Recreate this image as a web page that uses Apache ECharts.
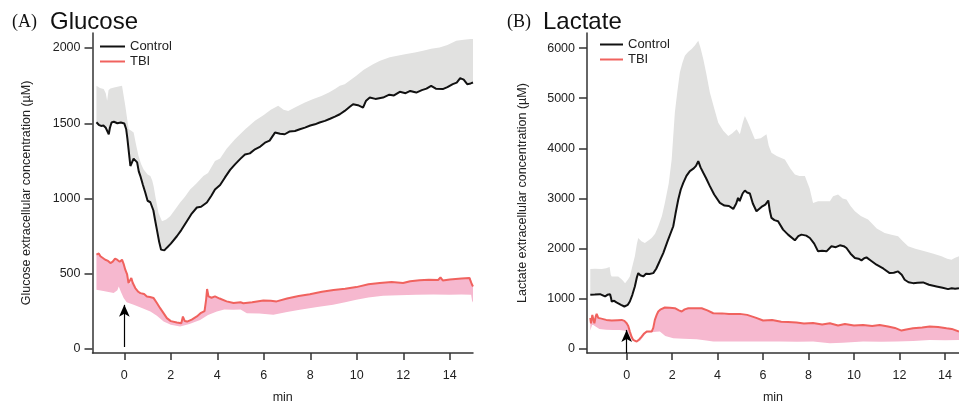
<!DOCTYPE html>
<html>
<head>
<meta charset="utf-8">
<script src="https://cdn.jsdelivr.net/npm/echarts@6/dist/echarts.min.js"></script>
<style>
html,body{margin:0;padding:0;background:#fff;}
#chart{width:959px;height:406px;}
</style>
</head>
<body>
<div id="chart"></div>
<script>
// ---------- Panel A: Glucose (min, µM) ----------
const glcCtrl = [[-1.2,1507],[-1.1,1490],[-1.0,1482],[-0.9,1485],[-0.8,1470],[-0.72,1480],[-0.67,1427],[-0.62,1470],[-0.55,1505],[-0.45,1510],[-0.3,1500],[-0.15,1505],[0,1498],[0.08,1460],[0.13,1400],[0.2,1300],[0.26,1216],[0.33,1225],[0.4,1265],[0.47,1273],[0.55,1240],[0.62,1180],[0.69,1149],[0.8,1090],[0.9,1040],[1.0,985],[1.04,973],[1.12,975],[1.19,973],[1.25,920],[1.33,850],[1.4,793],[1.5,710],[1.58,660],[1.65,649],[1.72,655],[1.83,673],[2.0,700],[2.26,749],[2.45,790],[2.69,849],[2.9,900],[3.12,940],[3.3,945],[3.55,973],[3.75,1020],[3.9,1060],[4.12,1090],[4.33,1140],[4.55,1190],[4.76,1227],[5.0,1265],[5.19,1293],[5.4,1300],[5.62,1327],[5.85,1345],[6.05,1371],[6.25,1385],[6.48,1438],[6.7,1430],[6.9,1427],[7.1,1445],[7.34,1449],[7.55,1460],[7.77,1471],[8.0,1485],[8.2,1493],[8.4,1505],[8.63,1516],[8.85,1530],[9.06,1544],[9.27,1560],[9.48,1582],[9.7,1610],[9.84,1627],[10.05,1620],[10.27,1604],[10.4,1650],[10.56,1671],[10.8,1662],[11.13,1671],[11.4,1690],[11.6,1685],[11.85,1709],[12.1,1700],[12.3,1715],[12.56,1704],[12.8,1720],[13.0,1730],[13.2,1749],[13.4,1730],[13.7,1727],[13.9,1740],[14.13,1760],[14.3,1770],[14.45,1800],[14.52,1809],[14.6,1790],[14.75,1760],[14.9,1765],[15.0,1771]];
const glcCtrlUpper = [[-1.2,1749],[-1.05,1735],[-0.89,1727],[-0.8,1700],[-0.74,1649],[-0.68,1720],[-0.6,1731],[-0.4,1740],[-0.1,1749],[0.04,1616],[0.12,1530],[0.19,1460],[0.3,1450],[0.4,1438],[0.5,1360],[0.61,1282],[0.72,1230],[0.83,1193],[1.0,1160],[1.12,1149],[1.2,1120],[1.26,1082],[1.35,1000],[1.47,904],[1.62,849],[1.8,860],[1.97,882],[2.2,930],[2.4,973],[2.6,1010],[2.83,1060],[3.1,1100],[3.4,1149],[3.6,1170],[3.9,1249],[4.12,1265],[4.4,1330],[4.76,1393],[5.2,1460],[5.62,1516],[6.0,1555],[6.3,1590],[6.62,1616],[6.85,1590],[7.05,1582],[7.4,1610],[7.77,1638],[8.1,1660],[8.48,1682],[8.8,1705],[9.06,1727],[9.27,1749],[9.48,1760],[9.98,1816],[10.3,1855],[10.7,1893],[11.0,1915],[11.42,1938],[11.8,1950],[12.13,1960],[12.5,1970],[12.85,1982],[13.2,1995],[13.56,2004],[13.9,2020],[14.28,2049],[14.6,2055],[14.9,2060],[15.0,2060]];
const glcTbi = [[-1.2,627],[-1.1,635],[-1.03,616],[-0.95,605],[-0.82,593],[-0.7,585],[-0.6,571],[-0.5,580],[-0.4,600],[-0.31,593],[-0.2,580],[-0.1,593],[-0.02,560],[0.04,527],[0.12,495],[0.18,438],[0.25,430],[0.3,471],[0.36,440],[0.47,405],[0.6,380],[0.69,371],[0.85,365],[0.97,349],[1.1,345],[1.26,338],[1.4,305],[1.54,271],[1.7,235],[1.83,205],[2.0,185],[2.26,176],[2.45,171],[2.52,215],[2.6,185],[2.7,182],[2.9,195],[3.12,216],[3.3,240],[3.45,252],[3.52,330],[3.56,398],[3.62,349],[3.75,340],[3.9,349],[4.1,335],[4.4,316],[4.7,305],[5.0,310],[5.12,304],[5.5,310],[5.98,322],[6.3,320],[6.55,316],[7.0,335],[7.5,352],[7.98,364],[8.5,380],[9.0,392],[9.5,400],[9.98,411],[10.5,430],[10.99,438],[11.5,445],[11.99,438],[12.3,450],[12.7,456],[13.1,460],[13.5,458],[13.6,475],[13.7,455],[14.0,462],[14.5,468],[14.85,471],[14.9,475],[14.95,430],[15.0,415]];
const glcTbiLower = [[-1.2,393],[-0.9,385],[-0.46,371],[-0.3,390],[-0.24,415],[-0.15,380],[-0.03,338],[0.1,310],[0.4,293],[0.7,275],[1.12,249],[1.4,220],[1.69,182],[2.0,160],[2.4,149],[2.8,165],[3.26,193],[3.6,225],[3.98,249],[4.3,262],[4.69,260],[5.0,262],[5.27,238],[5.8,235],[6.41,227],[7.0,245],[7.55,260],[8.3,278],[8.98,293],[9.5,310],[9.98,327],[10.5,342],[11.13,353],[11.8,357],[12.56,360],[13.3,362],[13.99,360],[14.5,362],[14.92,360],[14.96,320],[15.0,309]];

// ---------- Panel B: Lactate (min, µM) ----------
const lacCtrl = [[-1.6,1080],[-1.4,1085],[-1.17,1093],[-1.05,1070],[-0.95,1047],[-0.85,1080],[-0.73,1093],[-0.68,1000],[-0.66,947],[-0.55,960],[-0.45,930],[-0.37,927],[-0.25,880],[-0.1,847],[0.05,880],[0.14,947],[0.25,1080],[0.36,1247],[0.45,1430],[0.51,1513],[0.6,1470],[0.73,1447],[0.85,1500],[1.0,1495],[1.17,1513],[1.3,1600],[1.45,1750],[1.61,1913],[1.8,2150],[2.05,2447],[2.15,2700],[2.27,2980],[2.38,3180],[2.49,3313],[2.63,3450],[2.78,3547],[2.95,3600],[3.05,3650],[3.15,3747],[3.25,3620],[3.37,3513],[3.5,3400],[3.66,3247],[3.85,3080],[4.1,2913],[4.3,2860],[4.5,2850],[4.69,2793],[4.82,2900],[4.9,3013],[4.97,2950],[5.01,2913],[5.1,3100],[5.2,3160],[5.3,3120],[5.42,3100],[5.55,2900],[5.71,2747],[5.93,2833],[6.1,2880],[6.23,2960],[6.3,2750],[6.37,2613],[6.5,2570],[6.66,2547],[6.88,2380],[7.1,2280],[7.4,2167],[7.55,2250],[7.69,2280],[7.9,2260],[8.06,2213],[8.25,2100],[8.42,1947],[8.6,1960],[8.79,1947],[9.01,2047],[9.2,2030],[9.38,2067],[9.55,2050],[9.67,2013],[9.85,1900],[10.04,1813],[10.2,1800],[10.33,1767],[10.45,1810],[10.55,1827],[10.75,1760],[10.99,1680],[11.3,1600],[11.57,1513],[11.75,1520],[11.94,1547],[12.1,1480],[12.23,1380],[12.4,1330],[12.6,1313],[12.8,1320],[13.04,1327],[13.3,1280],[13.63,1247],[13.9,1220],[14.14,1193],[14.3,1210],[14.45,1200],[14.62,1213]];
const lacCtrlUpper = [[-1.6,1593],[-1.4,1600],[-1.1,1593],[-0.9,1610],[-0.75,1633],[-0.7,1480],[-0.66,1447],[-0.37,1447],[-0.2,1380],[-0.07,1313],[0.05,1380],[0.14,1447],[0.25,1650],[0.36,1847],[0.45,2100],[0.51,2213],[0.65,2150],[0.8,2113],[1.0,2180],[1.1,2213],[1.25,2300],[1.39,2447],[1.55,2650],[1.68,2913],[1.85,3300],[1.98,3780],[2.05,4250],[2.12,4713],[2.22,5100],[2.34,5513],[2.45,5700],[2.56,5847],[2.7,5920],[2.86,5980],[3.0,6050],[3.15,6147],[3.25,6000],[3.37,5780],[3.5,5500],[3.66,5113],[3.85,4800],[4.03,4513],[4.25,4350],[4.47,4247],[4.65,4300],[4.84,4380],[4.98,4280],[5.1,4500],[5.2,4647],[5.35,4500],[5.64,4180],[5.9,4200],[6.15,4280],[6.25,4050],[6.37,3913],[6.6,3850],[6.96,3780],[7.2,3600],[7.4,3480],[7.6,3450],[7.84,3447],[8.05,3200],[8.2,2913],[8.42,2947],[8.72,2947],[8.94,2947],[9.08,3047],[9.3,3080],[9.5,3000],[9.67,2980],[9.85,2850],[10.04,2747],[10.3,2650],[10.62,2580],[11.0,2400],[11.35,2313],[11.65,2280],[11.94,2247],[12.15,2150],[12.38,2047],[12.7,2000],[13.11,1947],[13.5,1900],[13.85,1847],[14.1,1800],[14.29,1780],[14.45,1820],[14.62,1847]];
const lacTbi = [[-1.6,620],[-1.57,513],[-1.51,680],[-1.45,560],[-1.42,513],[-1.36,650],[-1.32,700],[-1.25,620],[-1.17,593],[-0.9,580],[-0.66,567],[-0.4,575],[-0.22,580],[-0.1,560],[0.0,513],[0.07,460],[0.14,347],[0.22,240],[0.29,180],[0.37,155],[0.44,147],[0.55,190],[0.66,247],[0.77,310],[0.88,347],[1.0,350],[1.1,347],[1.17,420],[1.24,580],[1.32,680],[1.39,747],[1.5,790],[1.68,827],[1.9,820],[2.12,813],[2.3,770],[2.42,747],[2.55,790],[2.71,813],[3.0,810],[3.3,813],[3.55,770],[3.81,713],[4.2,710],[4.5,700],[4.98,700],[5.3,680],[5.7,620],[6.0,567],[6.4,580],[6.8,545],[7.1,540],[7.47,527],[7.8,510],[8.2,520],[8.6,490],[8.94,513],[9.3,470],[9.6,500],[10.0,470],[10.4,480],[10.8,460],[11.13,480],[11.5,450],[11.8,420],[12.09,367],[12.3,390],[12.6,413],[13.0,430],[13.33,447],[13.7,440],[14.07,413],[14.3,400],[14.62,347]];
const lacTbiLower = [[-1.6,367],[-1.52,480],[-1.47,480],[-1.2,400],[-0.9,385],[-0.59,380],[-0.3,380],[0.0,360],[0.1,300],[0.2,200],[0.3,160],[0.44,140],[0.6,170],[0.75,260],[0.88,330],[1.1,335],[1.3,345],[1.46,347],[1.7,260],[2.05,213],[2.5,205],[3.08,193],[3.5,170],[3.81,147],[4.5,150],[5.27,147],[6.0,150],[6.74,147],[7.5,145],[8.2,147],[8.94,113],[9.5,125],[10.4,147],[11.2,145],[11.87,147],[12.6,160],[13.33,180],[14.0,175],[14.62,180]];

// ---------- Ticks, labels and annotations ----------
const xTicks = [0, 2, 4, 6, 8, 10, 12, 14];
const glcYTicks = [0, 500, 1000, 1500, 2000];
const lacYTicks = [0, 1000, 2000, 3000, 4000, 5000, 6000];
const panelLetters = ['(A)', '(B)'];
const panelTitles = ['Glucose', 'Lactate'];
const yNames = ['Glucose extracellular concentration (\u00B5M)', 'Lactate extracellular concentration (\u00B5M)'];
const xName = 'min';
const seriesNames = ['Control', 'TBI'];
// injection arrow: [time, from value, to value]
const glcArrow = [0, 13, 293];
const lacArrow = [0, -80, 380];

const FONT = '"Liberation Sans", Arial, Helvetica, sans-serif';
const C_BLACK = '#111111', C_RED = '#f0625e', C_PINK = '#f6b8cf', C_GRAY = '#e1e1e0';

function band(gi, upper, lower, color) {
  return {
    type: 'custom', xAxisIndex: gi, yAxisIndex: gi, clip: true, silent: true, z: 1,
    data: [upper[0]],
    renderItem: function (params, api) {
      const pts = [];
      for (let i = 0; i < upper.length; i++) pts.push(api.coord(upper[i]));
      for (let i = lower.length - 1; i >= 0; i--) pts.push(api.coord(lower[i]));
      return { type: 'polygon', shape: { points: pts }, style: { fill: color, stroke: null } };
    }
  };
}
function line(gi, name, data, color, arrow) {
  const s = {
    type: 'line', name: name, xAxisIndex: gi, yAxisIndex: gi, data: data,
    symbol: 'none', showSymbol: false, z: 3, clip: true,
    lineStyle: { color: color, width: 2 }, itemStyle: { color: color }
  };
  if (arrow) {
    s.markLine = {
      silent: true, symbol: ['none', 'arrow'], symbolSize: [8, 12], label: { show: false },
      lineStyle: { color: '#000', width: 1.2, type: 'solid' },
      emphasis: { disabled: true },
      data: [[{ coord: [arrow[0], arrow[1]] }, { coord: [arrow[0], arrow[2]] }]]
    };
  }
  return s;
}
const plain = function (v) { return String(v); };
function xAx(gi, min, max) {
  return {
    type: 'value', gridIndex: gi, min: min, max: max,
    name: xName, nameLocation: 'middle', nameGap: 38,
    nameTextStyle: { fontFamily: FONT, fontSize: 12.5, color: '#222' },
    axisLine: { onZero: false, lineStyle: { color: '#333', width: 1.5 } },
    axisTick: { show: true, length: 7, customValues: xTicks, lineStyle: { color: '#333', width: 1.5 } },
    axisLabel: { customValues: xTicks, formatter: plain, margin: 16, fontFamily: FONT, fontSize: 12.5, color: '#222' },
    splitLine: { show: false }
  };
}
function yAx(gi, min, max, ticks, name, gap) {
  return {
    type: 'value', gridIndex: gi, min: min, max: max,
    name: name, nameLocation: 'middle', nameGap: gap, nameRotate: 90,
    nameTextStyle: { fontFamily: FONT, fontSize: 12.5, color: '#222' },
    axisLine: { onZero: false, lineStyle: { color: '#333', width: 1.5 } },
    axisTick: { show: true, length: 8, customValues: ticks, lineStyle: { color: '#333', width: 1.5 } },
    axisLabel: { customValues: ticks, formatter: plain, margin: 12, fontFamily: FONT, fontSize: 12.5, color: '#222' },
    splitLine: { show: false }
  };
}
function legend(left, top, w) {
  return {
    left: left, top: top, orient: 'vertical', itemWidth: w, itemHeight: 2, itemGap: 2,
    icon: 'rect', data: seriesNames, selectedMode: false, padding: 0,
    textStyle: { fontFamily: FONT, fontSize: 13, color: '#222' }
  };
}
function titleText(x, y, text, font) {
  return { type: 'text', x: x, y: y, style: { text: text, font: font, fill: '#111', verticalAlign: 'middle' } };
}

const chart = echarts.init(document.getElementById('chart'), null, { renderer: 'canvas' });
chart.setOption({
  animation: false,
  backgroundColor: '#fff',
  grid: [
    { left: 92.5, top: 33, width: 380.5, height: 320, outerBoundsMode: 'none', containLabel: false },
    { left: 587, top: 33, width: 372, height: 320, outerBoundsMode: 'none', containLabel: false }
  ],
  xAxis: [xAx(0, -1.37, 15), xAx(1, -1.745, 14.62)],
  yAxis: [yAx(0, -27, 2100, glcYTicks, yNames[0], 59), yAx(1, -80, 6300, lacYTicks, yNames[1], 58)],
  legend: [legend(100, 40, 25), legend(600, 38, 23)],
  graphic: [
    titleText(12, 22, panelLetters[0], '18px "Liberation Serif", "Times New Roman", serif'),
    titleText(50, 22, panelTitles[0], '24px ' + FONT),
    titleText(507, 22, panelLetters[1], '18px "Liberation Serif", "Times New Roman", serif'),
    titleText(543, 22, panelTitles[1], '24px ' + FONT)
  ],
  series: [
    band(0, glcCtrlUpper, glcCtrl, C_GRAY),
    band(0, glcTbi, glcTbiLower, C_PINK),
    line(0, seriesNames[0], glcCtrl, C_BLACK),
    line(0, seriesNames[1], glcTbi, C_RED, glcArrow),
    band(1, lacCtrlUpper, lacCtrl, C_GRAY),
    band(1, lacTbi, lacTbiLower, C_PINK),
    line(1, seriesNames[0], lacCtrl, C_BLACK),
    line(1, seriesNames[1], lacTbi, C_RED, lacArrow)
  ]
});
</script>
</body>
</html>
